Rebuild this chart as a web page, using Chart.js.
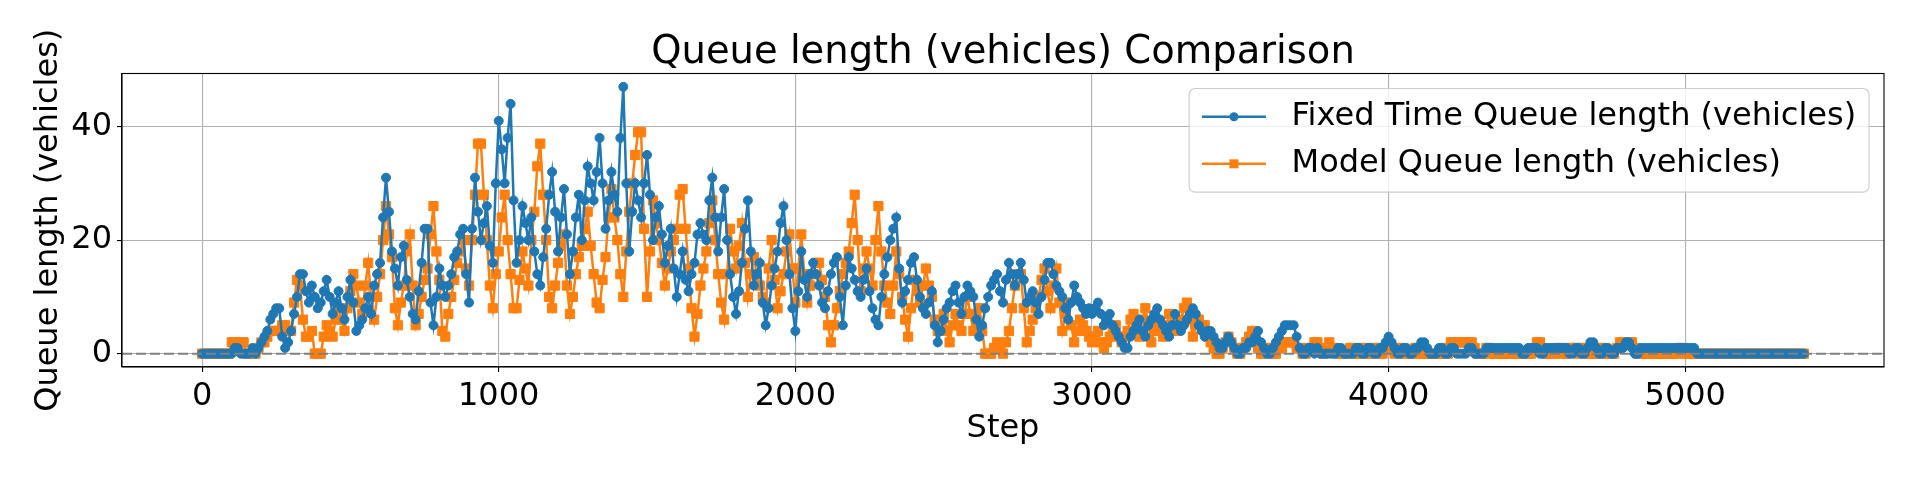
<!DOCTYPE html>
<html>
<head>
<meta charset="utf-8">
<title>Queue length (vehicles) Comparison</title>
<script src="https://cdn.jsdelivr.net/npm/chart.js@4.4.0/dist/chart.umd.min.js"></script>
<style>
  html, body { margin: 0; padding: 0; background: #fff; }
  #wrap { width: 1920px; height: 480px; }
</style>
</head>
<body>
<div id="wrap"><canvas id="queueChart" width="1920" height="480"></canvas></div>
<script>
// one value every STEP_EVERY simulation steps (20 values = 200 steps per row)
const STEP_EVERY = 10;

const fixedTimeQueue = [
  0, 0, 0, 0, 0, 0, 0, 0, 0, 0, 0, 1, 1, 0, 0, 0, 0, 1, 0, 1,
  2, 3, 4, 6, 7, 8, 8, 3, 1, 2, 4, 7, 10, 14, 14, 11, 9, 12, 10, 8,
  9, 11, 13, 10, 7, 9, 11, 8, 6, 10, 13, 9, 4, 5, 6, 8, 10, 7, 12, 14,
  16, 24, 31, 25, 18, 15, 12, 17, 19, 13, 10, 7, 6, 11, 16, 22, 22, 9, 5, 10,
  15, 12, 10, 12, 14, 17, 18, 21, 22, 14, 9, 22, 31, 25, 20, 23, 26, 19, 16, 30,
  41, 36, 30, 38, 44, 27, 16, 20, 26, 23, 20, 24, 18, 14, 12, 17, 22, 28, 32, 25,
  18, 24, 29, 21, 14, 18, 24, 28, 20, 27, 33, 30, 27, 32, 38, 30, 22, 27, 32, 28,
  25, 38, 47, 30, 18, 25, 30, 27, 24, 30, 35, 28, 20, 24, 26, 21, 16, 19, 22, 15,
  10, 14, 18, 13, 11, 14, 16, 21, 23, 21, 20, 27, 31, 24, 18, 24, 29, 20, 14, 10,
  7, 11, 16, 22, 27, 18, 12, 14, 16, 9, 5, 8, 12, 15, 18, 23, 26, 20, 14, 8,
  4, 11, 18, 13, 10, 14, 16, 14, 12, 9, 8, 11, 14, 16, 17, 10, 5, 12, 17, 15,
  13, 11, 10, 13, 15, 11, 8, 6, 5, 10, 14, 17, 20, 22, 24, 15, 9, 11, 13, 16,
  17, 13, 10, 8, 7, 9, 11, 5, 2, 4, 6, 8, 9, 11, 12, 9, 7, 10, 12, 11,
  10, 6, 3, 5, 8, 10, 12, 13, 14, 11, 9, 13, 16, 14, 12, 14, 16, 13, 9, 10,
  11, 9, 7, 10, 13, 16, 16, 14, 12, 11, 10, 8, 6, 9, 12, 10, 9, 8, 7, 8,
  7, 8, 9, 7, 5, 6, 7, 5, 4, 3, 2, 1, 1, 3, 4, 5, 6, 4, 3, 5,
  6, 7, 8, 6, 5, 4, 3, 5, 7, 5, 4, 5, 6, 7, 8, 7, 5, 4, 3, 4,
  4, 3, 2, 1, 1, 2, 3, 2, 1, 0, 0, 1, 1, 2, 2, 3, 4, 2, 1, 0,
  0, 1, 2, 3, 4, 5, 5, 5, 5, 3, 1, 0, 0, 1, 1, 0, 1, 0, 0, 0,
  0, 0, 0, 1, 1, 0, 0, 0, 0, 1, 1, 0, 0, 1, 1, 0, 0, 1, 1, 2,
  3, 2, 1, 0, 0, 1, 1, 0, 0, 1, 1, 2, 2, 1, 0, 0, 0, 1, 1, 0,
  0, 1, 1, 0, 0, 0, 0, 1, 1, 0, 0, 0, 0, 1, 1, 1, 1, 1, 1, 1,
  1, 1, 1, 1, 1, 0, 0, 1, 1, 1, 1, 0, 0, 1, 1, 1, 1, 1, 1, 1,
  1, 0, 0, 1, 1, 0, 0, 1, 2, 2, 1, 0, 0, 1, 1, 0, 0, 1, 1, 1,
  2, 2, 1, 0, 0, 1, 1, 1, 1, 1, 1, 1, 1, 1, 1, 1, 1, 1, 1, 1,
  1, 1, 1, 1, 0, 0, 0, 0, 0, 0, 0, 0, 0, 0, 0, 0, 0, 0, 0, 0,
  0, 0, 0, 0, 0, 0, 0, 0, 0, 0, 0, 0, 0, 0, 0, 0, 0, 0, 0, 0,
  0
];

const modelQueue = [
  0, 0, 0, 0, 0, 0, 0, 0, 0, 0, 2, 2, 1, 2, 2, 0, 0, 0, 0, 1,
  2, 2, 3, 4, 4, 4, 4, 5, 5, 4, 4, 9, 13, 12, 6, 3, 3, 4, 0, 0,
  0, 3, 5, 4, 3, 6, 8, 6, 4, 8, 11, 14, 12, 9, 7, 12, 16, 10, 6, 10,
  14, 20, 26, 21, 17, 8, 5, 9, 12, 18, 21, 12, 5, 7, 10, 13, 15, 21, 26, 18,
  13, 4, 3, 7, 10, 13, 16, 18, 20, 15, 12, 20, 28, 37, 37, 28, 20, 12, 8, 14,
  18, 24, 28, 20, 14, 8, 8, 13, 18, 15, 12, 20, 25, 33, 37, 28, 20, 10, 8, 12,
  16, 19, 21, 12, 7, 10, 14, 17, 19, 22, 25, 19, 14, 9, 8, 13, 17, 24, 29, 24,
  20, 14, 10, 18, 25, 30, 35, 39, 39, 22, 10, 18, 27, 23, 20, 16, 12, 15, 18, 20,
  22, 28, 29, 22, 15, 8, 3, 7, 12, 15, 18, 23, 27, 20, 14, 9, 6, 14, 22, 18,
  15, 19, 23, 16, 10, 14, 17, 14, 12, 10, 9, 15, 20, 13, 8, 11, 14, 18, 21, 15,
  9, 15, 21, 14, 9, 12, 14, 16, 16, 13, 10, 5, 2, 5, 8, 11, 14, 16, 18, 23,
  28, 20, 11, 15, 18, 15, 12, 20, 26, 18, 12, 9, 7, 12, 18, 14, 10, 6, 3, 8,
  13, 11, 9, 12, 15, 12, 10, 6, 4, 5, 7, 4, 2, 5, 7, 5, 4, 7, 10, 7,
  4, 6, 8, 4, 0, 0, 0, 1, 2, 1, 0, 2, 4, 8, 12, 14, 14, 8, 2, 4,
  6, 8, 10, 13, 15, 11, 8, 12, 15, 9, 4, 7, 9, 5, 2, 4, 6, 5, 4, 3,
  2, 3, 4, 2, 1, 2, 3, 4, 5, 3, 2, 3, 4, 6, 7, 5, 3, 6, 8, 5,
  2, 4, 5, 4, 3, 5, 7, 5, 4, 5, 6, 8, 9, 6, 3, 5, 6, 5, 5, 3,
  2, 1, 0, 0, 1, 2, 3, 2, 1, 0, 0, 1, 2, 3, 4, 2, 1, 0, 0, 1,
  1, 0, 0, 1, 1, 2, 2, 2, 2, 1, 1, 0, 0, 1, 1, 2, 2, 1, 0, 1,
  2, 1, 1, 0, 0, 0, 0, 1, 1, 0, 0, 1, 1, 0, 0, 1, 1, 0, 0, 1,
  1, 1, 0, 1, 1, 0, 0, 0, 0, 1, 1, 0, 0, 0, 0, 0, 0, 0, 0, 1,
  0, 2, 2, 2, 2, 2, 2, 2, 2, 1, 0, 0, 0, 1, 1, 0, 0, 0, 0, 0,
  0, 0, 0, 0, 0, 0, 0, 0, 0, 1, 2, 2, 1, 0, 0, 0, 0, 1, 1, 0,
  0, 1, 1, 1, 0, 1, 1, 0, 0, 0, 0, 1, 1, 0, 0, 0, 0, 1, 2, 2,
  2, 2, 2, 1, 0, 0, 0, 0, 0, 0, 0, 0, 0, 0, 0, 0, 0, 0, 1, 1,
  0, 0, 0, 0, 0, 0, 0, 0, 0, 0, 0, 0, 0, 0, 0, 0, 0, 0, 0, 0,
  0, 0, 0, 0, 0, 0, 0, 0, 0, 0, 0, 0, 0, 0, 0, 0, 0, 0, 0, 0,
  0
];

const xTickValues = [0, 1000, 2000, 3000, 4000, 5000];
const yTickValues = [0, 20, 40];

const steps = fixedTimeQueue.map((_, i) => i * STEP_EVERY);

const BLUE = '#1f77b4';
const ORANGE = '#ff7f0e';
const FONT = "'DejaVu Sans', sans-serif";
const LABEL_PX = 32;
const LINE_W = 2.5;

// matplotlib style 5% margins around the data
const xLo = steps[0], xHi = steps[steps.length - 1];
const allY = fixedTimeQueue.concat(modelQueue);
const yLo = Math.min(...allY), yHi = Math.max(...allY);
const xPad = (xHi - xLo) * 0.05;
const yPad = (yHi - yLo) * 0.05;

Chart.defaults.font.family = FONT;
Chart.defaults.color = '#000';

const legendItems = [
  { text: 'Fixed Time Queue length (vehicles)', color: BLUE, marker: 'circle' },
  { text: 'Model Queue length (vehicles)', color: ORANGE, marker: 'square' },
];

// zero line, frame and an in-axes legend like matplotlib's
const overlayPlugin = {
  id: 'overlay',
  afterDatasetsDraw(chart) {
    const { ctx, chartArea } = chart;
    const y0 = chart.scales.y.getPixelForValue(0);

    ctx.save();
    ctx.strokeStyle = '#808080';
    ctx.lineWidth = 2;
    ctx.setLineDash([10, 4]);
    ctx.beginPath();
    ctx.moveTo(chartArea.left, y0);
    ctx.lineTo(chartArea.right, y0);
    ctx.stroke();
    ctx.setLineDash([]);

    ctx.strokeStyle = '#000';
    ctx.lineWidth = 1.1;
    ctx.strokeRect(chartArea.left, chartArea.top, chartArea.right - chartArea.left, chartArea.bottom - chartArea.top);

    const fs = LABEL_PX;
    ctx.font = fs + 'px ' + FONT;
    const pad = 0.4 * fs, handleLen = 2 * fs, handleGap = 0.8 * fs, rowH = 31, rowGap = 0.5 * fs;
    const textW = Math.max(...legendItems.map(it => ctx.measureText(it.text).width));
    const boxW = 2 * pad + handleLen + handleGap + textW;
    const boxH = 2 * pad + legendItems.length * rowH + (legendItems.length - 1) * rowGap;
    const boxR = chartArea.right - 15;
    const boxT = chartArea.top + 15;
    const boxL = boxR - boxW;

    ctx.beginPath();
    ctx.roundRect(boxL, boxT, boxW, boxH, 6);
    ctx.fillStyle = 'rgba(255,255,255,0.8)';
    ctx.fill();
    ctx.strokeStyle = '#cccccc';
    ctx.lineWidth = 1.1;
    ctx.stroke();

    legendItems.forEach((it, i) => {
      const cy = boxT + pad + i * (rowH + rowGap) + rowH / 2;
      const hx = boxL + pad;
      ctx.strokeStyle = it.color;
      ctx.lineWidth = LINE_W;
      ctx.beginPath();
      ctx.moveTo(hx, cy);
      ctx.lineTo(hx + handleLen, cy);
      ctx.stroke();
      ctx.fillStyle = it.color;
      const mx = hx + handleLen / 2;
      if (it.marker === 'circle') {
        ctx.beginPath();
        ctx.arc(mx, cy, 4.5, 0, Math.PI * 2);
        ctx.fill();
      } else {
        ctx.fillRect(mx - 4.5, cy - 4.5, 9, 9);
      }
      ctx.fillStyle = '#000';
      ctx.textBaseline = 'middle';
      ctx.textAlign = 'left';
      ctx.fillText(it.text, hx + handleLen + handleGap, cy);
    });
    ctx.restore();
  }
};

const tickGrid = {
  color: '#b0b0b0',
  lineWidth: 1.1,
  tickColor: '#000',
  tickLength: 5,
  tickWidth: 1.1,
};

const ctx = document.getElementById('queueChart').getContext('2d');
const queueChart = new Chart(ctx, {
  type: 'line',
  data: {
    datasets: [
      {
        label: legendItems[0].text,
        data: fixedTimeQueue.map((v, i) => ({ x: steps[i], y: v })),
        borderColor: BLUE,
        backgroundColor: BLUE,
        borderWidth: LINE_W,
        pointStyle: 'circle',
        pointRadius: 4.5,
        pointBorderWidth: 1,
        tension: 0,
      },
      {
        label: legendItems[1].text,
        data: modelQueue.map((v, i) => ({ x: steps[i], y: v })),
        borderColor: ORANGE,
        backgroundColor: ORANGE,
        borderWidth: LINE_W,
        pointStyle: 'rect',
        pointRadius: 6.5,
        pointBorderWidth: 1,
        tension: 0,
      },
    ],
  },
  options: {
    responsive: false,
    animation: false,
    events: [],
    layout: { padding: { left: 0, right: 36, top: 0, bottom: 0 } },
    plugins: {
      legend: { display: false },
      tooltip: { enabled: false },
      title: {
        display: true,
        fullSize: false,
        text: 'Queue length (vehicles) Comparison',
        color: '#000',
        font: { size: 38.5, weight: 'normal', lineHeight: 1 },
        padding: { top: 34, bottom: 1 },
      },
    },
    scales: {
      x: {
        type: 'linear',
        min: xLo - xPad,
        max: xHi + xPad,
        afterBuildTicks: s => { s.ticks = xTickValues.map(v => ({ value: v })); },
        afterFit: s => { s.height = 113; },
        ticks: { font: { size: LABEL_PX }, color: '#000', padding: 5, maxRotation: 0, callback: v => String(v) },
        grid: tickGrid,
        border: { color: '#000', width: 1.1 },
        title: { display: true, text: 'Step', color: '#000', font: { size: LABEL_PX }, padding: { top: 0, bottom: 32 } },
      },
      y: {
        type: 'linear',
        min: yLo - yPad,
        max: yHi + yPad,
        afterBuildTicks: s => { s.ticks = yTickValues.map(v => ({ value: v })); },
        afterFit: s => { s.width = 122; },
        ticks: { font: { size: LABEL_PX }, color: '#000', padding: 5, callback: v => String(v) },
        grid: tickGrid,
        border: { color: '#000', width: 1.1 },
        title: { display: true, text: 'Queue length (vehicles)', color: '#000', font: { size: LABEL_PX }, padding: { top: 29, bottom: 0 } },
      },
    },
  },
  plugins: [overlayPlugin],
});
</script>
</body>
</html>
